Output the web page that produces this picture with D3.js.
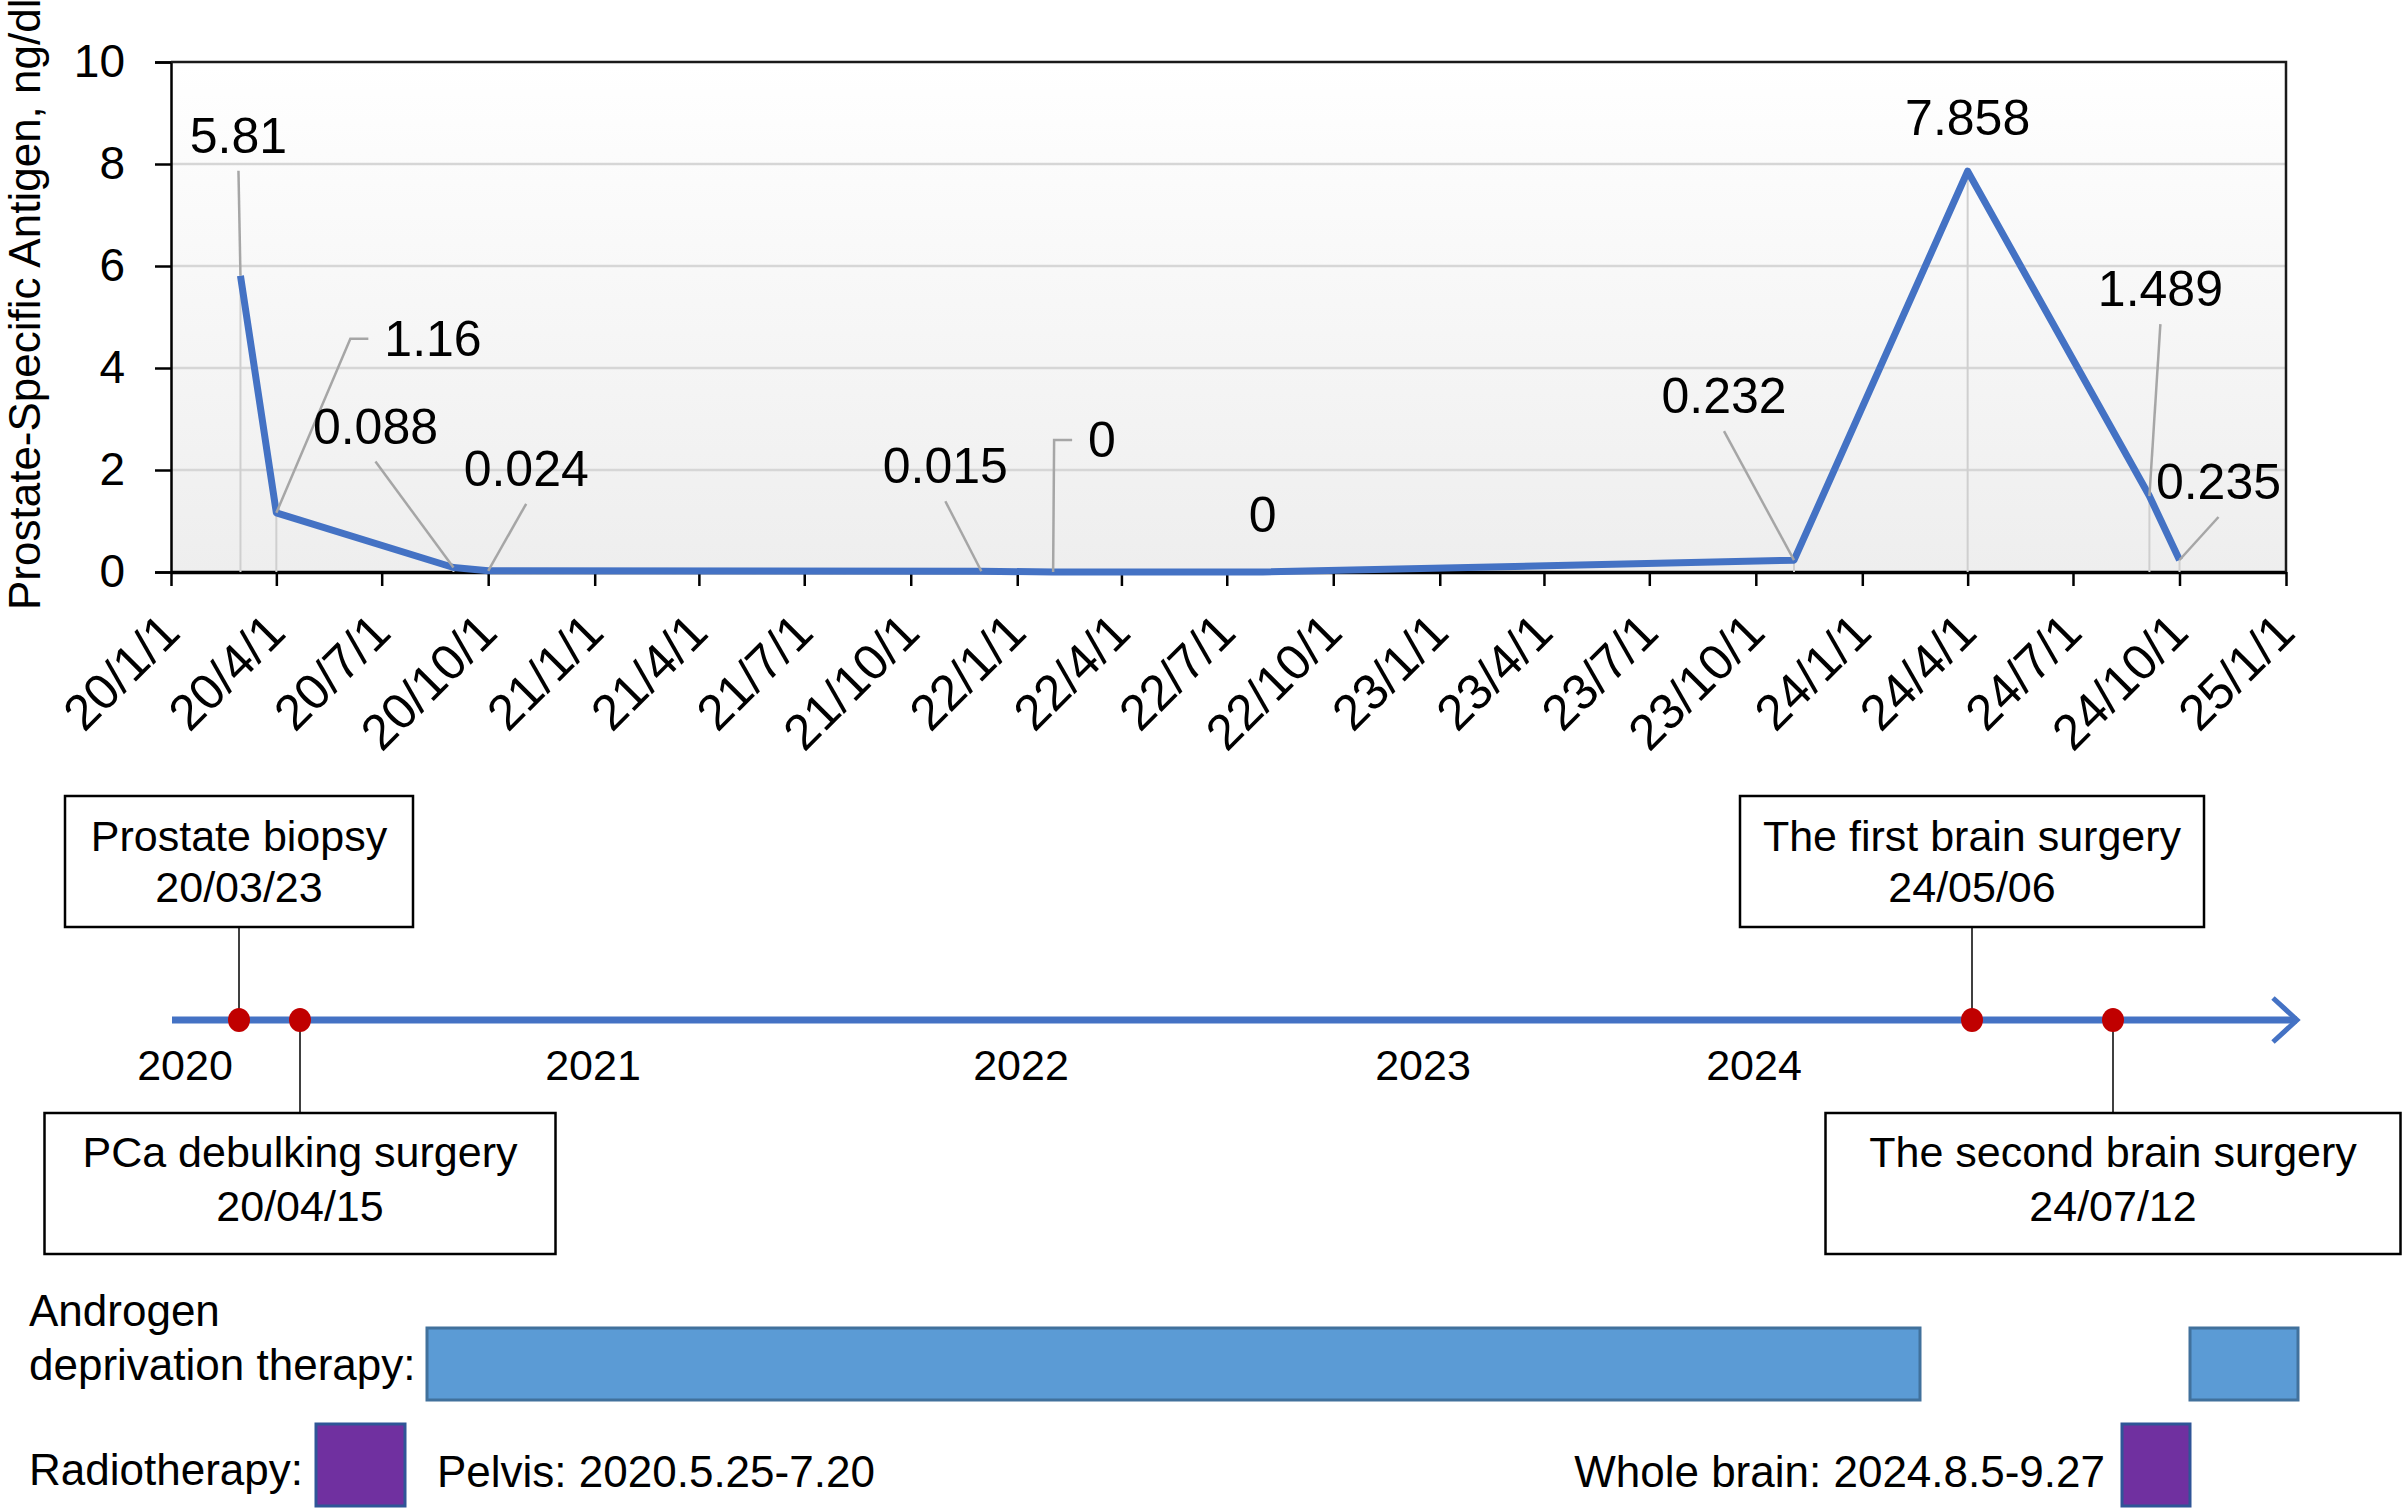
<!DOCTYPE html>
<html>
<head>
<meta charset="utf-8">
<script src="https://cdnjs.cloudflare.com/ajax/libs/d3/7.8.5/d3.min.js"></script>
<style>
    body { margin: 0; background: #ffffff; }
    svg text { font-family: "Liberation Sans", Arial, sans-serif; fill: #000000; }
</style>
</head>
<body>
<div id="chart"></div>
<script>
var width = 2407;
var height = 1511;

// ---- data ----
var psaDates = ["2020-03-01", "2020-04-01", "2020-09-01", "2020-10-01", "2021-12-01", "2022-02-01",
    "2022-08-01", "2023-11-03", "2024-04-01", "2024-09-05", "2024-10-01"];
var psaValues = [5.81, 1.16, 0.088, 0.024, 0.015, 0, 0, 0.232, 7.858, 1.489, 0.235];
var yTicks = [0, 2, 4, 6, 8, 10];
var yTitle = "Prostate-Specific Antigen, ng/dl";

var eventNames = ["Prostate biopsy", "PCa debulking surgery", "The first brain surgery", "The second brain surgery"];
var eventDates = ["2020-03-23", "2020-04-15", "2024-05-06", "2024-07-12"];
var eventDateLabels = ["20/03/23", "20/04/15", "24/05/06", "24/07/12"];

var yearLabels = ["2020", "2021", "2022", "2023", "2024"];

var adtStarts = ["2020-08-06", "2024-09-27"];
var adtEnds = ["2024-04-05", "2025-01-01"];

var rtStarts = ["2020-05-25", "2024-08-05"];
var rtEnds = ["2020-07-20", "2024-09-27"];
var rtLabels = ["Pelvis: 2020.5.25-7.20", "Whole brain: 2024.8.5-9.27"];

// ---- layout ----
var plotLeft = 171, plotRight = 2286, plotTop = 62, plotBottom = 572;

// label placement relative to its point (px), and kind of leader line
var labelDx = [-2, 108, -78, 38, -36, 35, 0, -70, 0, 11, 39];
var labelDy = [-123, -157, -124, -85, -88, -115, -40, -147, -36, -190, -61];
var leaderKind = ["line", "elbow", "line", "line", "line", "elbow", "none", "line", "none", "line", "line"];

// schematic timeline is not to scale: piecewise anchors
var tlAnchorDates = ["2020-01-01", "2020-03-23", "2020-04-15", "2020-05-25", "2020-07-20", "2020-08-06",
    "2021-01-01", "2022-01-01", "2023-01-01", "2024-01-01", "2024-04-05", "2024-05-06", "2024-07-12",
    "2024-08-05", "2024-09-27", "2025-01-01"];
var tlAnchorX = [185, 239, 300, 316, 405, 427, 593, 1021, 1423, 1754, 1920, 1972, 2113, 2122, 2190, 2298];

var timelineY = 1020;
var eventAbove = [true, false, true, false];
var eventBoxWidth = [348, 511, 464, 575];

var fontFamily = '"Liberation Sans", Arial, sans-serif';
var parseDate = d3.timeParse("%Y-%m-%d");

var svg = d3.select("#chart").append("svg")
    .attr("width", width)
    .attr("height", height);

var x = d3.scaleTime()
    .domain([parseDate("2020-01-01"), parseDate("2025-01-01")])
    .range([plotLeft, plotRight]);

var y = d3.scaleLinear()
    .domain([0, 10])
    .range([plotBottom, plotTop]);

var tl = d3.scaleTime()
    .domain(tlAnchorDates.map(parseDate))
    .range(tlAnchorX);

function addPlotBackground() {
    var grad = svg.append("defs").append("linearGradient")
        .attr("id", "bg")
        .attr("x1", 0).attr("y1", 0).attr("x2", 0).attr("y2", 1);
    grad.append("stop").attr("offset", "0%").attr("stop-color", "#ffffff");
    grad.append("stop").attr("offset", "100%").attr("stop-color", "#eeeeee");

    svg.append("rect")
        .attr("x", plotLeft)
        .attr("y", plotTop)
        .attr("width", plotRight - plotLeft)
        .attr("height", plotBottom - plotTop)
        .attr("fill", "url(#bg)");

    // horizontal gridlines
    svg.append("g").selectAll("line")
        .data(yTicks.slice(1, -1))
        .enter().append("line")
        .attr("x1", plotLeft).attr("x2", plotRight)
        .attr("y1", function (d) { return y(d); })
        .attr("y2", function (d) { return y(d); })
        .attr("stroke", "#d6d6d6")
        .attr("stroke-width", 2.5);
}

function addAxes() {
    var yAxis = svg.append("g")
        .attr("transform", "translate(" + plotLeft + ",0)")
        .call(d3.axisLeft(y).tickValues(yTicks).tickSize(16).tickPadding(30));
    yAxis.select(".domain").attr("stroke-width", 2.5);
    yAxis.selectAll(".tick line").attr("stroke-width", 2.5);
    yAxis.selectAll(".tick text")
        .attr("font-size", 46)
        .attr("font-family", fontFamily);

    var xAxis = svg.append("g")
        .attr("transform", "translate(0," + plotBottom + ")")
        .call(d3.axisBottom(x)
            .ticks(d3.timeMonth.every(3))
            .tickFormat(d3.timeFormat("%y/%-m/%-d"))
            .tickSize(14)
            .tickSizeOuter(0));
    xAxis.select(".domain").attr("stroke-width", 3.5);
    xAxis.selectAll(".tick line").attr("stroke-width", 2.5);
    xAxis.selectAll(".tick text")
        .attr("font-size", 50)
        .attr("font-family", fontFamily)
        .attr("text-anchor", "end")
        .attr("dy", 0)
        .attr("y", 0)
        .attr("transform", "translate(11,63) rotate(-45)");

    // top and right border
    svg.append("path")
        .attr("d", "M" + plotLeft + "," + plotTop + "H" + plotRight + "V" + plotBottom)
        .attr("fill", "none")
        .attr("stroke", "#1a1a1a")
        .attr("stroke-width", 2.5);

    svg.append("text")
        .attr("transform", "translate(40,610) rotate(-90)")
        .attr("font-size", 44)
        .text(yTitle);
}

function addSeries() {
    var points = psaDates.map(function (d, i) {
        return { date: parseDate(d), value: psaValues[i], i: i };
    });

    // drop lines
    svg.append("g").selectAll("line")
        .data(points)
        .enter().append("line")
        .attr("x1", function (d) { return x(d.date); })
        .attr("x2", function (d) { return x(d.date); })
        .attr("y1", function (d) { return y(d.value); })
        .attr("y2", plotBottom)
        .attr("stroke", "#cfcfcf")
        .attr("stroke-width", 2);

    var line = d3.line()
        .x(function (d) { return x(d.date); })
        .y(function (d) { return y(d.value); });

    svg.append("path")
        .datum(points)
        .attr("d", line)
        .attr("fill", "none")
        .attr("stroke", "#4472c4")
        .attr("stroke-width", 7)
        .attr("stroke-linejoin", "round");

    // leader lines
    var leaders = svg.append("g");
    points.forEach(function (d) {
        var px = x(d.date), py = y(d.value);
        var lx = px + labelDx[d.i], ly = py + labelDy[d.i];
        if (leaderKind[d.i] === "line") {
            leaders.append("line")
                .attr("x1", lx).attr("y1", ly + 18)
                .attr("x2", px).attr("y2", py)
                .attr("stroke", "#a6a6a6").attr("stroke-width", 2.5);
        } else if (leaderKind[d.i] === "elbow") {
            leaders.append("polyline")
                .attr("points", [[lx - 16, ly - 17], [lx - 34, ly - 17], [px, py]].join(" "))
                .attr("fill", "none")
                .attr("stroke", "#a6a6a6").attr("stroke-width", 2.5);
        }
    });

    svg.append("g").selectAll("text")
        .data(points)
        .enter().append("text")
        .attr("x", function (d) { return x(d.date) + labelDx[d.i]; })
        .attr("y", function (d) { return y(d.value) + labelDy[d.i]; })
        .attr("text-anchor", function (d) { return leaderKind[d.i] === "elbow" ? "start" : "middle"; })
        .attr("font-size", 50)
        .text(function (d) { return String(d.value); });
}

function addTimeline() {
    var x0 = 172, x1 = 2297;
    svg.append("line")
        .attr("x1", x0).attr("x2", x1)
        .attr("y1", timelineY).attr("y2", timelineY)
        .attr("stroke", "#4472c4")
        .attr("stroke-width", 7);
    svg.append("polyline")
        .attr("points", [[x1 - 24, timelineY - 22], [x1, timelineY], [x1 - 24, timelineY + 22]].join(" "))
        .attr("fill", "none")
        .attr("stroke", "#4472c4")
        .attr("stroke-width", 5);

    svg.append("g").selectAll("text")
        .data(yearLabels)
        .enter().append("text")
        .attr("x", function (d) { return tl(parseDate(d + "-01-01")); })
        .attr("y", 1080)
        .attr("text-anchor", "middle")
        .attr("font-size", 43)
        .text(function (d) { return d; });

    var events = eventNames.map(function (name, i) {
        return { name: name, date: parseDate(eventDates[i]), label: eventDateLabels[i], i: i };
    });

    var g = svg.append("g").selectAll("g")
        .data(events)
        .enter().append("g");

    g.append("line")
        .attr("x1", function (d) { return tl(d.date); })
        .attr("x2", function (d) { return tl(d.date); })
        .attr("y1", timelineY)
        .attr("y2", function (d) { return eventAbove[d.i] ? 927 : 1113; })
        .attr("stroke", "#000000")
        .attr("stroke-width", 1.5);

    g.append("rect")
        .attr("x", function (d) { return tl(d.date) - eventBoxWidth[d.i] / 2; })
        .attr("y", function (d) { return eventAbove[d.i] ? 796 : 1113; })
        .attr("width", function (d) { return eventBoxWidth[d.i]; })
        .attr("height", function (d) { return eventAbove[d.i] ? 131 : 141; })
        .attr("fill", "#ffffff")
        .attr("stroke", "#000000")
        .attr("stroke-width", 2.5);

    g.append("text")
        .attr("x", function (d) { return tl(d.date); })
        .attr("y", function (d) { return eventAbove[d.i] ? 851 : 1167; })
        .attr("text-anchor", "middle")
        .attr("font-size", 43)
        .text(function (d) { return d.name; });

    g.append("text")
        .attr("x", function (d) { return tl(d.date); })
        .attr("y", function (d) { return eventAbove[d.i] ? 902 : 1221; })
        .attr("text-anchor", "middle")
        .attr("font-size", 43)
        .text(function (d) { return d.label; });

    g.append("ellipse")
        .attr("cx", function (d) { return tl(d.date); })
        .attr("cy", timelineY)
        .attr("rx", 11)
        .attr("ry", 12)
        .attr("fill", "#c00000");
}

function addTherapies() {
    svg.append("text")
        .attr("x", 29).attr("y", 1326)
        .attr("font-size", 44)
        .text("Androgen");
    svg.append("text")
        .attr("x", 29).attr("y", 1380)
        .attr("font-size", 44)
        .text("deprivation therapy:");

    svg.append("g").selectAll("rect")
        .data(adtStarts)
        .enter().append("rect")
        .attr("x", function (d) { return tl(parseDate(d)); })
        .attr("y", 1328)
        .attr("width", function (d, i) { return tl(parseDate(adtEnds[i])) - tl(parseDate(d)); })
        .attr("height", 72)
        .attr("fill", "#5b9bd5")
        .attr("stroke", "#41719c")
        .attr("stroke-width", 3);

    svg.append("text")
        .attr("x", 29).attr("y", 1485)
        .attr("font-size", 44)
        .text("Radiotherapy:");

    svg.append("g").selectAll("rect")
        .data(rtStarts)
        .enter().append("rect")
        .attr("x", function (d) { return tl(parseDate(d)); })
        .attr("y", 1424)
        .attr("width", function (d, i) { return tl(parseDate(rtEnds[i])) - tl(parseDate(d)); })
        .attr("height", 82)
        .attr("fill", "#7030a0")
        .attr("stroke", "#2f5597")
        .attr("stroke-width", 3);

    // pelvis label sits right of its box, whole brain label left of its box
    svg.append("text")
        .attr("x", tl(parseDate(rtEnds[0])) + 32)
        .attr("y", 1487)
        .attr("font-size", 44)
        .text(rtLabels[0]);
    svg.append("text")
        .attr("x", tl(parseDate(rtStarts[1])) - 17)
        .attr("y", 1487)
        .attr("text-anchor", "end")
        .attr("font-size", 44)
        .text(rtLabels[1]);
}

addPlotBackground();
addAxes();
addSeries();
addTimeline();
addTherapies();
</script>
</body>
</html>
